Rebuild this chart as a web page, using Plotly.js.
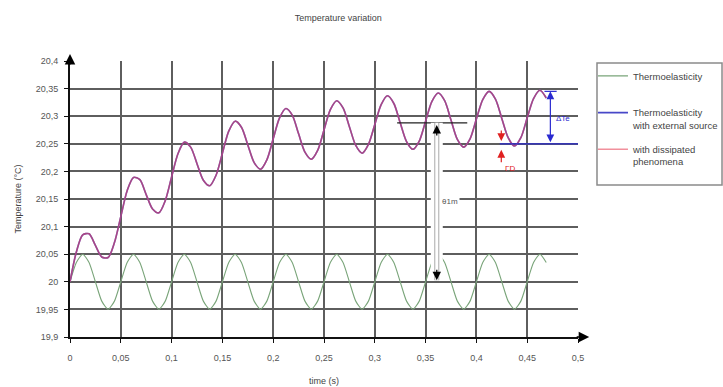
<!DOCTYPE html>
<html><head><meta charset="utf-8">
<script src="https://cdn.plot.ly/plotly-3.0.1.min.js"></script>
<style>html,body{margin:0;padding:0;background:#fff}#chart{width:723px;height:387px}</style>
</head><body><div id="chart"></div>
<script>
const time = [0,0.00625,0.0125,0.01875,0.025,0.03125,0.0375,0.04375,0.05,0.05625,0.0625,0.06875,0.075,0.08125,0.0875,0.09375,
  0.1,0.10625,0.1125,0.11875,0.125,0.13125,0.1375,0.14375,0.15,0.15625,0.1625,0.16875,0.175,0.18125,0.1875,0.19375,
  0.2,0.20625,0.2125,0.21875,0.225,0.23125,0.2375,0.24375,0.25,0.25625,0.2625,0.26875,0.275,0.28125,0.2875,0.29375,
  0.3,0.30625,0.3125,0.31875,0.325,0.33125,0.3375,0.34375,0.35,0.35625,0.3625,0.36875,0.375,0.38125,0.3875,0.39375,
  0.4,0.40625,0.4125,0.41875,0.425,0.43125,0.4375,0.44375,0.45,0.45625,0.4625,0.46875];

const thermoelasticity = [20,20.035,20.05,20.035,20,19.965,19.95,19.965, 20,20.035,20.05,20.035,20,19.965,19.95,19.965,
  20,20.035,20.05,20.035,20,19.965,19.95,19.965, 20,20.035,20.05,20.035,20,19.965,19.95,19.965,
  20,20.035,20.05,20.035,20,19.965,19.95,19.965, 20,20.035,20.05,20.035,20,19.965,19.95,19.965,
  20,20.035,20.05,20.035,20,19.965,19.95,19.965, 20,20.035,20.05,20.035,20,19.965,19.95,19.965,
  20,20.035,20.05,20.035,20,19.965,19.95,19.965, 20,20.035,20.05,20.035];

const withExternalSource = [20.000,20.054,20.085,20.087,20.066,20.045,20.044,20.071,
  20.118,20.165,20.189,20.185,20.158,20.132,20.125,20.147,
  20.190,20.232,20.253,20.244,20.214,20.184,20.174,20.193,
  20.233,20.273,20.291,20.280,20.248,20.216,20.204,20.221,
  20.259,20.297,20.314,20.302,20.268,20.235,20.222,20.238,
  20.275,20.312,20.328,20.315,20.281,20.247,20.233,20.249,
  20.285,20.321,20.337,20.323,20.288,20.254,20.240,20.255,
  20.291,20.327,20.342,20.328,20.293,20.258,20.244,20.259,
  20.295,20.330,20.345,20.331,20.296,20.261,20.246,20.261,
  20.297,20.332,20.347,20.333];

const withDissipated = [20.000,20.054,20.085,20.087,20.066,20.045,20.044,20.071,
  20.118,20.165,20.189,20.185,20.158,20.132,20.125,20.147,
  20.190,20.232,20.253,20.244,20.214,20.184,20.174,20.193,
  20.233,20.273,20.291,20.280,20.248,20.216,20.204,20.221,
  20.259,20.297,20.314,20.302,20.268,20.235,20.222,20.238,
  20.275,20.312,20.328,20.315,20.281,20.247,20.233,20.249,
  20.285,20.321,20.337,20.323,20.288,20.254,20.240,20.255,
  20.291,20.327,20.342,20.328,20.293,20.258,20.244,20.259,
  20.295,20.330,20.345,20.331,20.296,20.261,20.246,20.261,
  20.297,20.332,20.347,20.333];

const seriesNames = ['Thermoelasticity<br> ', 'Thermoelasticity<br>with external source', 'with dissipated<br>phenomena'];

const xTickVals = [0,0.05,0.1,0.15,0.2,0.25,0.3,0.35,0.4,0.45,0.5];
const xTickText = ['0','0,05','0,1','0,15','0,2','0,25','0,3','0,35','0,4','0,45','0,5'];
const yTickVals = [19.9,19.95,20,20.05,20.1,20.15,20.2,20.25,20.3,20.35,20.4];
const yTickText = ['19,9','19,95','20','20,05','20,1','20,15','20,2','20,25','20,3','20,35','20,4'];

// annotation markers (mean rise, amplitude, dissipation gap)
const meanLevel = 20.288, meanStart = 0.322, meanEnd = 0.391, meanX = 0.361, meanBase = 20.003;
const ampX = 0.4728, ampTop = 20.345, ampBottom = 20.25;
const gapX = 0.4245, gapTop = 20.255, gapBottom = 20.239;

const FONT = 'Liberation Sans Narrow, Arial Narrow, Liberation Sans, Arial, sans-serif';

const traces = [
  {x: time, y: thermoelasticity, name: seriesNames[0], legendgroup: 'a', mode: 'lines',
   line: {color: '#79a479', width: 1.1, shape: 'spline', smoothing: 0.6}},
  {x: time, y: withExternalSource, name: seriesNames[1], legendgroup: 'b', mode: 'lines',
   line: {color: '#4848c8', width: 1.6, shape: 'spline', smoothing: 0.8}},
  {x: time, y: withDissipated, name: seriesNames[2], legendgroup: 'c', mode: 'lines',
   line: {color: 'rgba(232,70,90,0.6)', width: 1.6, shape: 'spline', smoothing: 0.8}}
];

const axisCommon = {
  showgrid: true, gridcolor: '#5e5e5e', gridwidth: 2, zeroline: false,
  showline: true, linecolor: '#111', linewidth: 2,
  ticks: 'outside', ticklen: 4, tickcolor: '#111', tickwidth: 1,
  tickfont: {family: FONT, size: 9, color: '#555'}, automargin: false, fixedrange: true
};

const layout = {
  width: 723, height: 387,
  margin: {l: 70, r: 145, t: 61, b: 50, autoexpand: false},
  paper_bgcolor: '#fff', plot_bgcolor: '#fff',
  font: {family: FONT, color: '#444'},
  title: {text: 'Temperature variation', font: {family: FONT, size: 9, color: '#444'},
          xref: 'paper', x: 0.528, xanchor: 'center', yref: 'container', y: 0.955, yanchor: 'middle'},
  xaxis: Object.assign({}, axisCommon, {range: [0, 0.5], tickmode: 'array', tickvals: xTickVals, ticktext: xTickText,
    ticklabelstandoff: 7,
    title: {text: 'time (s)', font: {family: FONT, size: 9, color: '#444'}, standoff: 16}}),
  yaxis: Object.assign({}, axisCommon, {range: [19.9, 20.4], tickmode: 'array', tickvals: yTickVals, ticktext: yTickText,
    ticklabelstandoff: 4,
    title: {text: 'Temperature (°C)', font: {family: FONT, size: 9, color: '#444'}, standoff: 13}}),
  showlegend: true,
  legend: {x: 1.0295, xanchor: 'left', y: 0.992, yanchor: 'top', bgcolor: 'rgba(0,0,0,0)', borderwidth: 0,
           font: {family: FONT, size: 9.5, color: '#444'}, itemwidth: 30, tracegroupgap: 9, valign: 'top'},
  shapes: [
    // legend frame
    {type: 'rect', xref: 'paper', yref: 'paper', x0: 1.0374, x1: 1.2835, y0: 0.5507, y1: 0.9928,
     line: {color: '#8a8a8a', width: 1.5}, fillcolor: 'rgba(0,0,0,0)', layer: 'below'},
    {type: 'line', xref: 'x', yref: 'y', x0: meanStart, x1: meanEnd, y0: meanLevel, y1: meanLevel, line: {color: '#222', width: 1.2}},
    {type: 'line', xref: 'x', yref: 'y', x0: meanX, x1: meanX, y0: meanBase, y1: meanLevel, line: {color: '#fff', width: 12}},
    {type: 'line', xref: 'x', yref: 'y', x0: meanX, x1: meanX, y0: meanBase, y1: meanLevel, line: {color: '#aaa', width: 5}},
    {type: 'line', xref: 'x', yref: 'y', x0: meanX, x1: meanX, y0: meanBase, y1: meanLevel, line: {color: '#fff', width: 3}},
    {type: 'line', xref: 'x', yref: 'y', x0: 0.423, x1: 0.5, y0: ampBottom, y1: ampBottom, line: {color: '#2a2ad0', width: 1.2}},
    {type: 'line', xref: 'x', yref: 'y', x0: 0.467, x1: 0.479, y0: ampTop, y1: ampTop, line: {color: '#2a2ad0', width: 1.2}}
  ],
  annotations: [
    // axis arrows
    {xref: 'paper', yref: 'paper', x: 0, y: 1.025, ax: 0, ay: 12, text: '', showarrow: true, arrowhead: 2, arrowsize: 1.4, arrowwidth: 1.5, arrowcolor: '#000'},
    {xref: 'paper', yref: 'paper', x: 1.022, y: 0, ax: -14, ay: 0, text: '', showarrow: true, arrowhead: 2, arrowsize: 1.4, arrowwidth: 1.5, arrowcolor: '#000'},
    // mean rise arrows
    {xref: 'x', yref: 'y', x: meanX, y: meanLevel - 0.004, ax: 0, ay: 12, text: '', showarrow: true, arrowhead: 2, arrowsize: 1.3, arrowwidth: 1.3, arrowcolor: '#000'},
    {xref: 'x', yref: 'y', x: meanX, y: meanBase, ax: 0, ay: -12, text: '', showarrow: true, arrowhead: 2, arrowsize: 1.3, arrowwidth: 1.3, arrowcolor: '#000'},
    {xref: 'x', yref: 'y', x: meanX + 0.003, y: 20.146, text: 'θ1m', showarrow: false, xanchor: 'left', bgcolor: '#fff',
     font: {family: FONT, size: 8, color: '#555'}},
    // amplitude arrows (blue)
    {xref: 'x', yref: 'y', x: ampX, y: ampTop, axref: 'x', ayref: 'y', ax: ampX, ay: ampBottom, text: '', showarrow: true,
     arrowhead: 2, arrowside: 'end+start', arrowsize: 1.3, arrowwidth: 1.2, arrowcolor: '#2a2ad0'},
    {xref: 'x', yref: 'y', x: ampX + 0.004, y: 20.295, text: 'ΔTe', showarrow: false, xanchor: 'left',
     font: {family: FONT, size: 8, color: '#2a2ad0'}},
    // dissipation gap arrows (red)
    {xref: 'x', yref: 'y', x: gapX, y: gapTop, ax: 0, ay: -12, text: '', showarrow: true, arrowhead: 2, arrowsize: 1.3, arrowwidth: 1.2, arrowcolor: '#e02020'},
    {xref: 'x', yref: 'y', x: gapX, y: gapBottom, ax: 0, ay: 14, text: '', showarrow: true, arrowhead: 2, arrowsize: 1.3, arrowwidth: 1.2, arrowcolor: '#e02020'},
    {xref: 'x', yref: 'y', x: gapX + 0.002, y: 20.205, text: 'ΓD', showarrow: false, xanchor: 'left',
     font: {family: FONT, size: 8, color: '#e02020'}}
  ]
};

Plotly.newPlot('chart', traces, layout, {staticPlot: true, displayModeBar: false});
</script>
</body></html>
